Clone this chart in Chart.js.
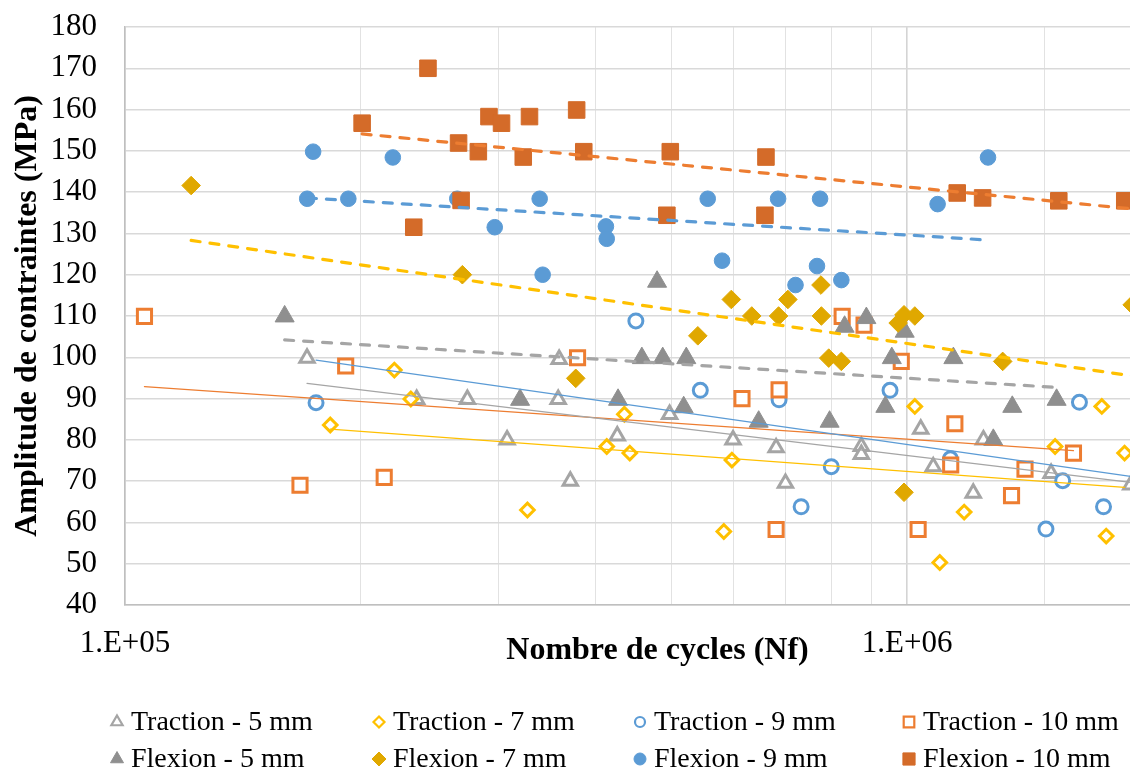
<!DOCTYPE html>
<html>
<head>
<meta charset="utf-8">
<script src="https://cdn.jsdelivr.net/npm/chart.js@4/dist/chart.umd.min.js"></script>
<style>
  html, body { margin: 0; padding: 0; overflow: hidden; background: #fff; }
  #wrap { width: 1203px; height: 772px; }
</style>
</head>
<body>
<div id="wrap"><canvas id="sn"></canvas></div>
<script>
// Data: N = cycles, S = stress amplitude (MPa)
const trac5N = [1.709e5, 2.36e5, 2.74e5, 3.08e5, 3.58e5, 3.59e5, 3.71e5, 4.26e5, 4.97e5, 5.99e5, 6.80e5, 6.99e5, 8.74e5, 8.74e5, 1.041e6, 1.080e6, 1.215e6, 1.252e6, 1.528e6, 1.932e6];
const trac5S = [99.8, 89.8, 89.8, 80, 89.8, 99.5, 70, 81, 86.2, 80, 78.1, 69.5, 78.4, 76.5, 82.6, 73.5, 67.1, 80, 71.9, 69.1];

const trac7N = [1.83e5, 2.21e5, 2.32e5, 3.27e5, 4.35e5, 4.13e5, 4.42e5, 5.83e5, 5.97e5, 1.023e6, 1.183e6, 1.101e6, 1.546e6, 1.774e6, 1.797e6, 1.897e6];
const trac7S = [83.6, 96.9, 89.9, 63, 86.2, 78.4, 76.8, 57.8, 75.1, 88.1, 62.5, 50.3, 78.4, 88.1, 56.7, 76.8];

const trac9N = [1.755e5, 4.50e5, 5.44e5, 6.86e5, 7.32e5, 8.00e5, 9.51e5, 1.136e6, 1.505e6, 1.581e6, 1.661e6, 1.783e6];
const trac9S = [89.0, 108.8, 92, 89.7, 63.8, 73.5, 92, 75.4, 58.4, 70.1, 89.1, 63.8];

const trac10N = [1.059e5, 1.674e5, 2.145e5, 1.915e5, 3.79e5, 6.15e5, 6.86e5, 6.80e5, 8.26e5, 8.81e5, 9.83e5, 1.151e6, 1.137e6, 1.033e6, 1.360e6, 1.415e6, 1.632e6];
const trac10S = [109.9, 69, 70.9, 97.9, 99.9, 90, 92.1, 58.3, 109.9, 107.8, 99, 83.9, 73.9, 58.3, 66.5, 72.9, 76.8];

const flex5N = [1.60e5, 3.20e5, 4.27e5, 4.58e5, 4.87e5, 5.22e5, 4.79e5, 5.18e5, 6.46e5, 7.96e5, 8.32e5, 8.87e5, 9.93e5, 9.56e5, 9.38e5, 1.146e6, 1.289e6, 1.363e6, 1.553e6];
const flex5S = [109.9, 89.7, 89.7, 99.8, 99.8, 99.8, 118.3, 87.9, 84.4, 84.4, 107.4, 109.5, 106.2, 99.8, 88.0, 99.8, 80, 88.0, 89.7];

const flex7N = [1.215e5, 2.70e5, 5.96e5, 3.77e5, 5.40e5, 6.33e5, 6.85e5, 7.04e5, 7.76e5, 7.77e5, 7.94e5, 8.24e5, 9.74e5, 9.91e5, 1.023e6, 9.91e5, 1.325e6, 1.94e6];
const flex7S = [141.6, 120, 114, 94.9, 105.2, 110, 110, 114, 117.5, 110, 99.8, 99, 108.3, 110.3, 110, 67.3, 99, 112.7];

const flex9N = [1.74e5, 2.20e5, 1.71e5, 1.93e5, 2.66e5, 3.39e5, 2.97e5, 4.12e5, 4.13e5, 5.80e5, 5.56e5, 3.42e5, 6.84e5, 7.74e5, 1.094e6, 1.269e6, 7.67e5, 7.20e5, 8.24e5];
const flex9S = [149.8, 148.4, 138.4, 138.4, 138.4, 138.4, 131.5, 131.7, 128.7, 123.4, 138.4, 120, 138.4, 138.4, 137.1, 148.4, 122.1, 117.5, 118.7];

const flex10N = [2.01e5, 2.44e5, 2.34e5, 2.67e5, 2.69e5, 2.83e5, 2.92e5, 3.03e5, 3.23e5, 3.29e5, 3.78e5, 3.86e5, 4.93e5, 4.98e5, 6.58e5, 6.60e5, 1.159e6, 1.249e6, 1.563e6, 1.898e6];
const flex10S = [156.7, 170, 131.5, 151.9, 138.0, 149.8, 158.3, 156.7, 148.5, 158.3, 159.9, 149.8, 134.4, 149.8, 134.4, 148.5, 139.8, 138.6, 137.9, 137.9];

// Trend line end points
const trendTrac5N = [1.709e5, 1.932e6], trendTrac5S = [93.7, 69.7];
const trendTrac7N = [1.83e5, 1.897e6], trendTrac7S = [82.6, 68.5];
const trendTrac9N = [1.755e5, 1.94e6], trendTrac9S = [99.3, 71.1];
const trendTrac10N = [1.059e5, 1.632e6], trendTrac10S = [92.9, 77.4];
const trendFlex5N = [1.60e5, 1.553e6], trendFlex5S = [104.2, 92.7];
const trendFlex7N = [1.215e5, 1.94e6], trendFlex7S = [128.3, 95.5];
const trendFlex9N = [1.711e5, 1.269e6], trendFlex9S = [138.6, 128.4];
const trendFlex10N = [2.01e5, 1.95e6], trendFlex10S = [154.1, 135.9];

const seriesNames = ['Traction - 5 mm', 'Traction - 7 mm', 'Traction - 9 mm', 'Traction - 10 mm',
                     'Flexion - 5 mm', 'Flexion - 7 mm', 'Flexion - 9 mm', 'Flexion - 10 mm'];

const FONT = '"Liberation Serif", "Times New Roman", serif';
const pts = (xs, ys) => xs.map((x, i) => ({ x: x, y: ys[i] }));

// marker looks (r = plot radius, lr = legend radius)
const markers = [
    { style: 'triangle', r: 8.3,  fill: '#fff',    stroke: '#A5A5A5', bw: 3, lr: 6.5, lbw: 2.2 },
    { style: 'rectRot',  r: 6.8,  fill: '#fff',    stroke: '#FFC000', bw: 3, lr: 5.5, lbw: 2.2 },
    { style: 'circle',   r: 7,    fill: '#fff',    stroke: '#5B9BD5', bw: 3, lr: 5,   lbw: 2.2 },
    { style: 'rect',     r: 10,   fill: '#fff',    stroke: '#ED7D31', bw: 3, lr: 7.5, lbw: 2.2 },
    { style: 'triangle', r: 11,   fill: '#8F8F8F', stroke: '#8F8F8F', bw: 1, lr: 7.5, lbw: 1 },
    { style: 'rectRot',  r: 9.3,  fill: '#E0A800', stroke: '#E0A800', bw: 1, lr: 7,   lbw: 1 },
    { style: 'circle',   r: 7.8,  fill: '#5B9BD5', stroke: '#5B9BD5', bw: 1, lr: 6,   lbw: 1 },
    { style: 'rect',     r: 11.7, fill: '#D46B29', stroke: '#D46B29', bw: 1, lr: 8.6, lbw: 1 }
];

const seriesData = [
    pts(trac5N, trac5S), pts(trac7N, trac7S), pts(trac9N, trac9S), pts(trac10N, trac10S),
    pts(flex5N, flex5S), pts(flex7N, flex7S), pts(flex9N, flex9S), pts(flex10N, flex10S)
];

const datasets = seriesData.map((d, i) => ({
    label: seriesNames[i],
    data: d,
    pointStyle: markers[i].style,
    pointRadius: markers[i].r,
    pointHoverRadius: markers[i].r,
    backgroundColor: markers[i].fill,
    borderColor: markers[i].stroke,
    borderWidth: markers[i].bw,
    order: 8 - i + 1
}));

// trend lines (drawn on top of the markers)
const trends = [
    [pts(trendTrac5N, trendTrac5S), '#A5A5A5', false],
    [pts(trendTrac7N, trendTrac7S), '#FFC000', false],
    [pts(trendTrac9N, trendTrac9S), '#5B9BD5', false],
    [pts(trendTrac10N, trendTrac10S), '#ED7D31', false],
    [pts(trendFlex5N, trendFlex5S), '#A5A5A5', true],
    [pts(trendFlex7N, trendFlex7S), '#FFC000', true],
    [pts(trendFlex9N, trendFlex9S), '#5B9BD5', true],
    [pts(trendFlex10N, trendFlex10S), '#ED7D31', true]
];
trends.forEach(([d, c, dashed]) => {
    datasets.push({
        type: 'line',
        data: d,
        showLine: true,
        borderColor: c,
        borderWidth: dashed ? 3.2 : 1.3,
        borderDash: dashed ? [9, 10] : [],
        borderCapStyle: 'round',
        pointRadius: 0,
        fill: false,
        order: 0
    });
});

// Legend laid out as a 4 x 2 grid below the axis
const legendCols = [117, 379, 640, 909];
const legendRows = [722, 759];
const gridLegend = {
    id: 'gridLegend',
    afterDraw(chart) {
        const ctx = chart.ctx;
        ctx.save();
        ctx.font = '28px ' + FONT;
        ctx.textBaseline = 'middle';
        ctx.textAlign = 'left';
        seriesNames.forEach((name, i) => {
            const m = markers[i];
            const x = legendCols[i % 4];
            const y = legendRows[Math.floor(i / 4)];
            ctx.fillStyle = m.fill;
            ctx.strokeStyle = m.stroke;
            ctx.lineWidth = m.lbw;
            Chart.helpers.drawPoint(ctx, { pointStyle: m.style, radius: m.lr, borderWidth: m.lbw, rotation: 0 }, x, y);
            ctx.fillStyle = '#000';
            ctx.fillText(name, x + 14, y + 1);
        });
        ctx.restore();
    }
};

new Chart(document.getElementById('sn'), {
    type: 'scatter',
    data: { datasets: datasets },
    plugins: [gridLegend],
    options: {
        responsive: true,
        maintainAspectRatio: false,
        animation: false,
        layout: { padding: { top: 27, bottom: 101, left: 0, right: 0 } },
        plugins: {
            legend: { display: false },
            tooltip: { enabled: false }
        },
        scales: {
            x: {
                type: 'logarithmic',
                min: 1e5,
                max: 2.3e6,
                afterFit: s => { s.height = 66; s.paddingLeft = 0; s.paddingRight = 0; },
                grid: {
                    drawTicks: false,
                    color: c => (c.tick && c.tick.value === 1e6) ? '#D4D4D4' : '#E2E2E2',
                    lineWidth: c => (c.tick && c.tick.value === 1e6) ? 1.6 : 1
                },
                border: { color: '#BFBFBF', width: 1.5 },
                ticks: {
                    autoSkip: false,
                    maxRotation: 0,
                    padding: 20,
                    color: '#000',
                    font: { family: FONT, size: 31 },
                    callback: v => v === 1e5 ? '1.E+05' : (v === 1e6 ? '1.E+06' : '')
                },
                title: {
                    display: true,
                    text: 'Nombre de cycles (Nf)',
                    color: '#000',
                    font: { family: FONT, size: 32, weight: 'bold' },
                    padding: { top: 0, bottom: 1 }
                }
            },
            y: {
                min: 40,
                max: 180,
                afterFit: s => { s.width = 125; s.paddingTop = 0; s.paddingBottom = 0; },
                grid: { drawTicks: false, color: '#D9D9D9', lineWidth: 1.5 },
                border: { color: '#BFBFBF', width: 1.5 },
                ticks: {
                    stepSize: 10,
                    padding: 28,
                    color: '#000',
                    font: { family: FONT, size: 31 }
                },
                title: {
                    display: true,
                    text: 'Amplitude de contraintes (MPa)',
                    color: '#000',
                    font: { family: FONT, size: 32, weight: 'bold' },
                    padding: { top: 9, bottom: 0 }
                }
            }
        }
    }
});
</script>
</body>
</html>
